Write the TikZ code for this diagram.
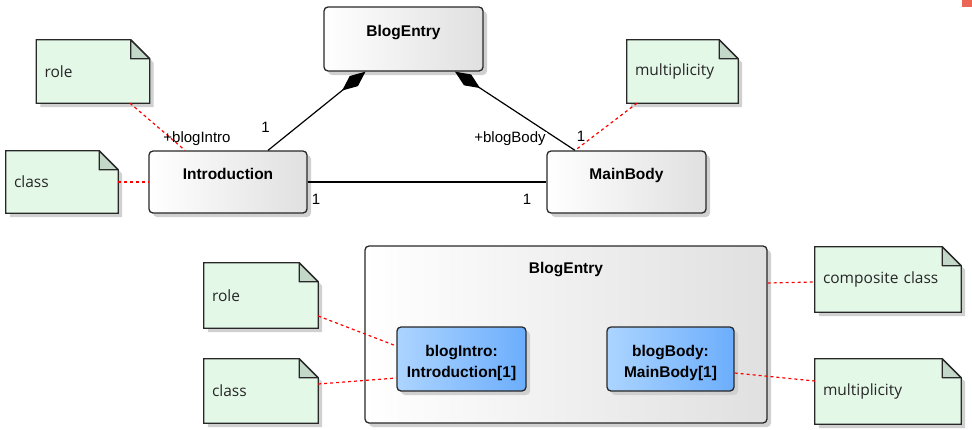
\documentclass[tikz,border=0pt]{standalone}
\usepackage{fontspec}
\setmainfont{Liberation Sans}
\newfontfamily\notefont{Open Sans}
\usetikzlibrary{arrows.meta,shadows}
\pgfdeclarelayer{background}
\pgfsetlayers{background,main}
\definecolor{notefill}{RGB}{228,248,232}
\definecolor{foldfill}{RGB}{195,216,200}
\definecolor{bord}{RGB}{40,40,40}
\definecolor{shad}{RGB}{208,208,208}
\definecolor{bluel}{RGB}{172,212,255}
\definecolor{bluer}{RGB}{108,174,252}
\definecolor{grayr}{RGB}{224,224,224}
\definecolor{cornerred}{RGB}{236,102,86}
\tikzset{
 boxbase/.style={draw=bord, line width=1.3pt, rounded corners=4pt, left color=white, right color=grayr,
   font=\fontsize{15.5}{21}\selectfont\bfseries, inner sep=0pt,
   drop shadow={shadow xshift=4pt, shadow yshift=-4pt, fill=shad, opacity=1}},
 cls/.style={boxbase, text height=11.5pt, text depth=17pt},
 part/.style={boxbase, left color=bluel, right color=bluer, align=center},
 notebox/.style={inner xsep=8pt, inner ysep=0pt, align=left, font=\notefont\fontsize{15.5}{18}\selectfont, text=black!85},
 lbl/.style={font=\fontsize{15}{18}\selectfont, inner sep=0pt},
 conn/.style={line width=1.2pt, black},
 comp/.style={conn, -{Diamond[length=30pt,width=13pt]}},
 anchorline/.style={red, line width=1.2pt, dash pattern=on 3pt off 3pt},
}
\newcommand\notedraw[1]{%
 \begin{pgfonlayer}{background}
 \fill[shad] ([shift={(4,4)}]#1.north west) -- ([shift={(-15,4)}]#1.north east) -- ([shift={(4,23)}]#1.north east) -- ([shift={(4,4)}]#1.south east) -- ([shift={(4,4)}]#1.south west) -- cycle;
 \filldraw[fill=notefill, draw=bord, line width=1.3pt] (#1.north west) -- ([xshift=-19pt]#1.north east) -- ([yshift=-19pt]#1.north east) -- (#1.south east) -- (#1.south west) -- cycle;
 \filldraw[fill=foldfill, draw=bord, line width=1.3pt, line join=round] ([xshift=-19pt]#1.north east) -- ([xshift=-19pt,yshift=-19pt]#1.north east) -- ([yshift=-19pt]#1.north east) -- cycle;
 \end{pgfonlayer}}
\begin{document}
\begin{tikzpicture}[x=1pt,y=-1pt]
\useasboundingbox (0,0) rectangle (972,429);
\fill[cornerred] (962,0) rectangle (972,7);

% top diagram
\node[cls, minimum width=159pt, minimum height=64pt] (be) at (403.5,39) {BlogEntry};
\node[cls, minimum width=158pt, minimum height=62pt] (intro) at (228,182) {Introduction};
\node[cls, minimum width=159pt, minimum height=62pt] (mainb) at (626.5,182) {MainBody};

\node[notebox, minimum width=113pt, minimum height=63pt, text width=97pt] (nrole) at (93,71.5) {role};
\node[notebox, minimum width=112pt, minimum height=62pt, text width=96pt] (ncls) at (62,182) {class};
\node[notebox, minimum width=111pt, minimum height=63pt, text width=95pt] (nmul) at (682.5,71.5) {multiplicity};
\notedraw{nrole}\notedraw{ncls}\notedraw{nmul}

\draw[comp] ([xshift=40pt]intro.north) -- ([xshift=-38pt]be.south);
\draw[comp] ([xshift=-51.5pt]mainb.north) -- ([xshift=51.5pt]be.south);
\draw[conn] (intro.east) -- (mainb.west);

\draw[anchorline] ([xshift=37pt]nrole.south) -- ([xshift=-43pt]intro.north);
\draw[anchorline] (ncls.east) -- (intro.west);
\draw[anchorline] ([xshift=-45.5pt]nmul.south) -- ([xshift=-51.5pt]mainb.north);

\node[lbl] (l1) at (265.5,127) {1};
\node[lbl] (lbi) at (197,139) {+blogIntro};
\node[lbl, fill=white, inner xsep=1pt] (lbb) at (510,139) {+blogBody};
\node[lbl] (l2) at (581,136) {1};
\node[lbl] (l3) at (316,199) {1};
\node[lbl] (l4) at (527,199) {1};

% bottom diagram
\node[boxbase, minimum width=402pt, minimum height=177pt] (comp) at (566,334.5) {};
\node[font=\fontsize{15.5}{21}\selectfont\bfseries, inner sep=0pt] (comptitle) at (566,270) {BlogEntry};
\node[part, minimum width=129pt, minimum height=64pt] (bi) at (461.5,359) {\rule{0pt}{19pt}blogIntro:\\Introduction[1]};
\node[part, minimum width=127pt, minimum height=64pt] (bb) at (670.5,359) {\rule{0pt}{19pt}blogBody:\\MainBody[1]};

\node[notebox, minimum width=114pt, minimum height=65pt, text width=98pt] (nrole2) at (261,295.5) {role};
\node[notebox, minimum width=114pt, minimum height=64pt, text width=98pt] (ncls2) at (261,391) {class};
\node[notebox, minimum width=146pt, minimum height=65pt, text width=130pt] (ncompn) at (888,279.5) {composite class};
\node[notebox, minimum width=146pt, minimum height=65pt, text width=130pt] (nmul2) at (888,391.5) {multiplicity};
\notedraw{nrole2}\notedraw{ncls2}\notedraw{ncompn}\notedraw{nmul2}

\draw[anchorline] ([yshift=-20.5pt]nrole2.east) -- ([yshift=13pt]bi.west);
\draw[anchorline] ([yshift=7pt]ncls2.east) -- ([yshift=-19pt]bi.west);
\draw[anchorline] ([yshift=-14pt]bb.east) -- ([yshift=10.5pt]nmul2.west);
\draw[anchorline] ([yshift=51.5pt]comp.east) -- ([yshift=-2.5pt]ncompn.west);
\end{tikzpicture}
\end{document}
